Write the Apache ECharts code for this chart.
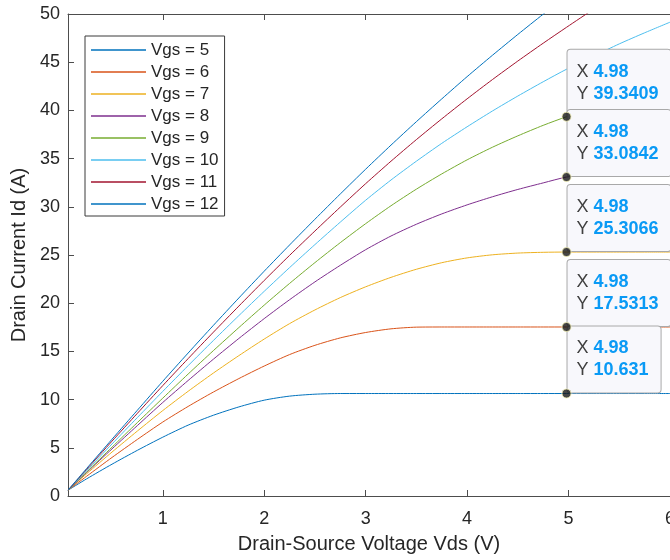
<!DOCTYPE html>
<html>
<head>
<meta charset="utf-8">
<script src="https://cdn.jsdelivr.net/npm/echarts@6/dist/echarts.min.js"></script>
<style>
  html, body { margin: 0; padding: 0; background: #ffffff; }
  #chart { width: 670px; height: 560px; }
</style>
</head>
<body>
<div id="chart"></div>
<script>
// Drain-source voltage sweep (V)
const vds = [0.066, 0.25, 0.5, 0.75, 1, 1.25, 1.5, 1.75, 2, 2.25, 2.5, 2.75, 3,
             3.25, 3.5, 3.75, 4, 4.25, 4.5, 4.75, 4.98, 5.25, 5.5, 5.75, 6];

// Drain current (A) for each gate-source voltage
const id5  = [0.6, 1.78, 3.3, 4.74, 6.1, 7.35, 8.38, 9.24, 9.94, 10.36, 10.56, 10.631, 10.631,
              10.631, 10.631, 10.631, 10.631, 10.631, 10.631, 10.631, 10.631, 10.631, 10.631, 10.631, 10.631];
const id6  = [0.6, 2.05, 4.0, 5.87, 7.67, 9.29, 10.79, 12.18, 13.48, 14.67, 15.63, 16.4, 16.96,
              17.34, 17.515, 17.5313, 17.5313, 17.5313, 17.5313, 17.5313, 17.5313, 17.5313, 17.5313, 17.5313, 17.5313];
const id7  = [0.6, 2.31, 4.56, 6.74, 8.86, 10.86, 12.76, 14.56, 16.28, 17.88, 19.3, 20.58, 21.7,
              22.68, 23.52, 24.2, 24.7, 25.02, 25.2, 25.28, 25.3066, 25.3066, 25.3066, 25.3066, 25.3066];
const id8  = [0.6, 2.44, 4.89, 7.31, 9.7, 11.98, 14.2, 16.34, 18.4, 20.36, 22.21, 23.93, 25.55,
              26.97, 28.19, 29.26, 30.2, 31.04, 31.8, 32.48, 33.0842, 33.42, 33.5, 33.5, 33.5];
const id9  = [0.6, 2.5, 5.07, 7.62, 10.15, 12.65, 15.09, 17.47, 19.8, 22.05, 24.21, 26.28, 28.25,
              30.11, 31.83, 33.41, 34.87, 36.18, 37.36, 38.45, 39.3409, 40.2, 40.91, 41.53, 42.07];
const id10 = [0.6, 2.64, 5.4, 8.14, 10.85, 13.52, 16.14, 18.71, 21.23, 23.69, 26.08, 28.41, 30.68,
              32.78, 34.73, 36.58, 38.3, 39.94, 41.49, 42.97, 44.27, 45.65, 46.9, 48.05, 49.15];
const id11 = [0.6, 2.77, 5.69, 8.58, 11.45, 14.25, 17.0, 19.7, 22.36, 24.96, 27.49, 29.97, 32.4,
              34.73, 36.97, 39.12, 41.2, 43.2, 45.12, 46.97, 48.62, 50.52, 52.22, 53.87, 55.47];
const id12 = [0.6, 2.86, 5.89, 8.9, 11.9, 14.83, 17.71, 20.54, 23.32, 26.04, 28.71, 31.33, 33.9,
              36.4, 38.83, 41.19, 43.5, 45.72, 47.88, 49.98, 51.88, 53.98, 55.9, 57.8, 59.6];

const curves = [id5, id6, id7, id8, id9, id10, id11, id12];
const vgsNames = ['Vgs = 5', 'Vgs = 6', 'Vgs = 7', 'Vgs = 8', 'Vgs = 9', 'Vgs = 10', 'Vgs = 11', 'Vgs = 12'];

// Tick labels
const xTicks = [1, 2, 3, 4, 5, 6];

// Data tips at Vds = 4.98 on the five lowest curves
const tipX = 4.98;
const tipCurves = [0, 1, 2, 3, 4];

const palette = ['#0072BD', '#D95319', '#EDB120', '#7E2F8E', '#77AC30', '#4DBEEE', '#A2142F', '#0072BD'];
const FONT = '"Liberation Sans", Arial, Helvetica, sans-serif';
const TEXT = '#262626';
const AXIS = '#4d4d4d';

const tipIdx = vds.indexOf(tipX);

const series = curves.map((ys, i) => {
  const s = {
    name: vgsNames[i],
    type: 'line',
    data: vds.map((x, k) => [x, ys[k]]),
    showSymbol: false,
    symbol: 'none',
    smooth: 0.25,
    clip: true,
    z: 2,
    lineStyle: { width: 1, color: palette[i] },
    itemStyle: { color: palette[i] }
  };
  if (tipCurves.includes(i)) {
    s.markPoint = {
      z: 20 - i,
      silent: true,
      symbol: 'circle',
      symbolSize: 2,
      itemStyle: { color: 'rgba(0,0,0,0)' },
      data: [{ coord: [tipX, ys[tipIdx]], value: ys[tipIdx] }],
      label: {
        show: true,
        position: [2, 0],
        align: 'left',
        verticalAlign: 'bottom',
        formatter: p => '{k|X} {v|' + tipX + '}\n{k|Y} {v|' + p.value + '}',
        backgroundColor: '#f8f8fc',
        borderColor: '#a9a9a9',
        borderWidth: 1,
        borderRadius: 3,
        padding: [11, 12, 11, 9],
        fontFamily: FONT,
        fontSize: 18,
        lineHeight: 22,
        rich: {
          k: { fontFamily: FONT, fontSize: 18, lineHeight: 22, color: '#404040' },
          v: { fontFamily: FONT, fontSize: 18, lineHeight: 22, color: '#0a9af5', fontWeight: 'bold' }
        }
      }
    };
  }
  return s;
});

// Black data-tip markers drawn above everything
series.push({
  name: 'tips',
  type: 'scatter',
  silent: true,
  z: 40,
  symbol: 'circle',
  symbolSize: 9,
  data: tipCurves.map(i => [tipX, curves[i][tipIdx]]),
  itemStyle: { color: '#161616', borderColor: '#f4f1b4', borderWidth: 1 }
});

const chart = echarts.init(document.getElementById('chart'), null, { renderer: 'canvas' });
chart.setOption({
  animation: false,
  backgroundColor: '#ffffff',
  textStyle: { fontFamily: FONT },
  grid: { left: 68, right: 0, top: 14, bottom: 64, containLabel: false, outerBoundsMode: 'none' },
  legend: {
    data: vgsNames,
    orient: 'vertical',
    left: 85,
    top: 36,
    icon: 'rect',
    itemWidth: 55,
    itemHeight: 1.5,
    itemGap: 2,
    padding: [4, 6, 2, 6],
    backgroundColor: '#ffffff',
    borderColor: '#3a3a3a',
    borderWidth: 1,
    borderRadius: 0,
    textStyle: { fontFamily: FONT, fontSize: 17, lineHeight: 20, color: TEXT }
  },
  xAxis: [
    {
      type: 'value',
      position: 'bottom',
      min: vds[0],
      max: 6,
      axisLine: { show: true, onZero: false, lineStyle: { color: AXIS, width: 1 } },
      axisTick: { show: true, inside: true, length: 6, customValues: xTicks, lineStyle: { color: AXIS } },
      axisLabel: { customValues: xTicks, fontFamily: FONT, fontSize: 18, color: TEXT, margin: 14 },
      splitLine: { show: false },
      name: 'Drain-Source Voltage Vds (V)',
      nameLocation: 'middle',
      nameGap: 38,
      nameTextStyle: { fontFamily: FONT, fontSize: 20, color: TEXT }
    },
    {
      type: 'value',
      position: 'top',
      min: vds[0],
      max: 6,
      axisLine: { show: true, onZero: false, lineStyle: { color: AXIS, width: 1 } },
      axisTick: { show: true, inside: true, length: 6, customValues: xTicks, lineStyle: { color: AXIS } },
      axisLabel: { show: false },
      splitLine: { show: false }
    }
  ],
  yAxis: {
    type: 'value',
    min: 0,
    max: 50,
    interval: 5,
    axisLine: { show: true, onZero: false, lineStyle: { color: AXIS, width: 1 } },
    axisTick: { show: true, inside: true, length: 6, lineStyle: { color: AXIS } },
    axisLabel: { fontFamily: FONT, fontSize: 18, color: TEXT, margin: 8 },
    splitLine: { show: false },
    name: 'Drain Current Id (A)',
    nameLocation: 'middle',
    nameGap: 28,
    nameTextStyle: { fontFamily: FONT, fontSize: 20, color: TEXT }
  },
  series: series
});
</script>
</body>
</html>
